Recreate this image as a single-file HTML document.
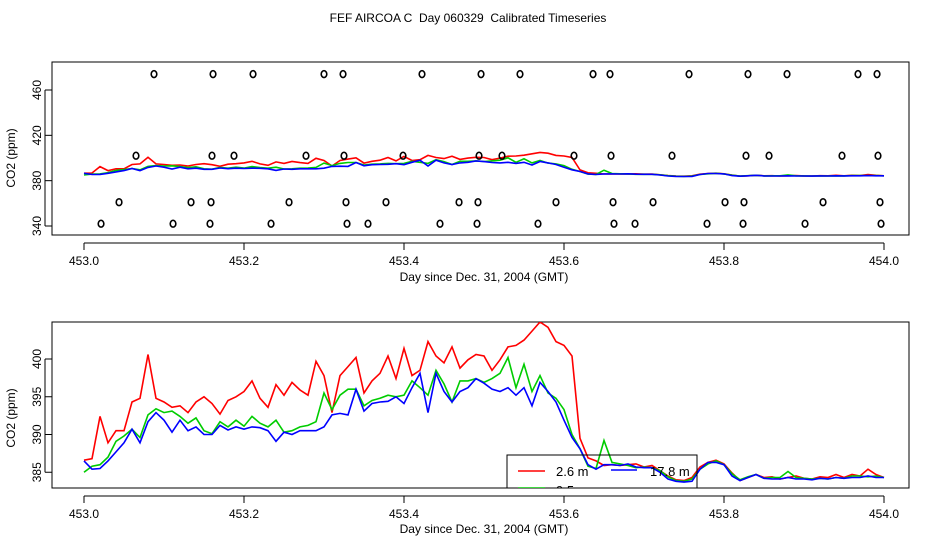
<!DOCTYPE html>
<html><head><meta charset="utf-8"><style>
body{margin:0;background:#fff}
svg{display:block;font-family:"Liberation Sans",sans-serif}
</style></head><body>
<svg id="chart" width="936" height="540" viewBox="0 0 936 540">
<defs>
<clipPath id="c1"><rect x="52" y="62" width="857" height="173"/></clipPath>
<clipPath id="c2"><rect x="52" y="322" width="857" height="166"/></clipPath>
</defs>
<rect width="936" height="540" fill="#fff"/>
<text x="468" y="22" font-size="12" text-anchor="middle" style="white-space:pre">FEF AIRCOA C  Day 060329  Calibrated Timeseries</text>
<g id="topPanel"></g>
<g id="botPanel"></g>
</svg>
<script>
const redVals=[386.6,386.8,392.4,388.9,390.5,390.5,394.3,394.8,400.6,394.8,394.3,393.6,393.8,392.9,394.3,395,394.1,392.7,394.5,395,395.7,397.1,394.8,393.6,396.6,395.2,396.9,395.9,395.2,399.7,397.8,392.9,397.8,399,400.2,395.5,397.1,398.1,400.4,397.4,401.4,397.8,398.5,402.3,400.4,399.5,401.6,398.8,399.9,400.6,400.4,398.5,399.9,401.6,401.8,402.5,403.7,404.9,404.2,402.3,401.8,400.4,389.5,386.9,386.5,385.9,386.0,385.9,386.0,386.1,385.7,385.9,385.2,384.5,384.0,383.9,384.3,385.7,386.3,386.6,386.1,384.9,383.9,384.3,384.7,384.3,384.4,384.1,384.3,384.5,384.2,384.1,384.4,384.3,384.7,384.3,384.7,384.5,385.4,384.7,384.3];
const greenVals=[385.0,385.8,386.0,387.0,389.1,389.8,390.7,389.6,392.6,393.4,392.9,393.1,392.4,391.5,392.2,390.5,390.1,391.7,391.0,391.9,391.1,392.4,391.5,391.0,391.9,390.3,390.5,391.0,391.2,391.7,395.5,393.3,395.2,396.0,396.0,393.8,394.5,394.8,395.2,395.0,395.2,397.1,396.2,395.2,398.5,396.7,394.3,397.1,397.1,397.4,396.9,397.4,398.1,400.2,396.2,399.3,395.7,397.8,395.5,394.8,393.3,390.0,388.1,385.8,385.5,389.2,386.3,386.1,385.9,385.6,385.7,385.6,385.2,384.4,383.9,383.8,384.1,385.4,386.1,386.5,386.0,384.8,384.0,384.4,384.7,384.2,384.3,384.3,385.1,384.3,384.2,384.1,384.2,384.1,384.3,384.2,384.5,384.5,384.4,384.5,384.3];
const blueVals=[386.5,385.4,385.5,386.5,387.7,388.9,390.7,388.9,391.7,392.9,391.9,390.3,391.9,390.5,391.0,390.0,390.0,391.2,390.6,391.0,390.7,391.0,390.9,390.5,389.1,390.3,390.0,390.5,390.5,390.5,391.0,392.6,392.8,392.6,396.0,393.1,394.1,394.3,394.4,395.0,394.1,396.2,398.1,392.9,398.1,395.7,394.3,395.7,396.2,397.4,396.8,396.0,395.7,396.2,395.2,396.2,393.8,396.9,395.7,394.3,391.9,389.6,388.1,386.0,385.4,386.0,386.0,385.9,386.1,385.7,385.6,385.6,385.0,384.1,383.8,383.7,383.8,385.4,386.3,386.3,386.0,384.5,383.9,384.3,384.7,384.2,384.1,384.1,384.3,384.1,384.1,384.0,384.2,384.1,384.3,384.2,384.3,384.3,384.5,384.3,384.3];
const dayStart=453.0, dayStep=0.01;
const xTicks=[453.0,453.2,453.4,453.6,453.8,454.0];
const xTickLabels=["453.0","453.2","453.4","453.6","453.8","454.0"];
const topYTicks=[340,380,420,460];
const botYTicks=[385,390,395,400];
const flagRowVals=[474,402,361,342];
const flagDays=[
[453.0875,453.1613,453.2113,453.3,453.3238,453.4225,453.4963,453.545,453.6363,453.6575,453.7563,453.83,453.8788,453.9675,453.9913],
[453.065,453.16,453.1875,453.2775,453.325,453.3988,453.4938,453.5225,453.6125,453.6588,453.735,453.8275,453.8563,453.9475,453.9925],
[453.0438,453.1338,453.1588,453.2563,453.3275,453.3775,453.4688,453.4925,453.59,453.6613,453.7113,453.8013,453.825,453.9238,453.995],
[453.0213,453.1113,453.1575,453.2338,453.3288,453.355,453.445,453.4913,453.5675,453.6625,453.6888,453.7788,453.8238,453.9013,453.9963]];

const NS="http://www.w3.org/2000/svg";
function mk(tag,attrs,parent,txt){const e=document.createElementNS(NS,tag);for(const k in attrs)e.setAttribute(k,attrs[k]);if(txt!==undefined)e.textContent=txt;parent.appendChild(e);return e;}
const xS=d=>84+(d-453.0)*800;
const yTop=v=>226-(v-340)*(136/120);
const yBot=v=>359-(v-400)*7.55;

function panel(g,box,yS,yTicks,clip,yLabelY,xLabelY,tickBaseY){
  const r=mk('rect',{x:box[0],y:box[1],width:box[2],height:box[3],fill:'none',stroke:'#000','stroke-width':1},g);
  
  
  xTicks.forEach((t,i)=>{
    const l=mk('line',{x1:xS(t),x2:xS(t),y1:tickBaseY,y2:tickBaseY+7,stroke:'#000'},g);
    
    
    const tx=mk('text',{x:xS(t),y:tickBaseY+22,'font-size':12,'text-anchor':'middle'},g,xTickLabels[i]);
    
    
  });
  mk('line',{x1:xS(xTicks[0]),x2:xS(xTicks[xTicks.length-1]),y1:tickBaseY,y2:tickBaseY,stroke:'#000'},g);
  yTicks.forEach(v=>{
    const l=mk('line',{x1:45,x2:52,y1:yS(v),y2:yS(v),stroke:'#000'},g);
    
    
    const tx=mk('text',{x:0,y:0,'font-size':12,'text-anchor':'middle',transform:`translate(41,${yS(v)}) rotate(-90)`},g,String(v));
    
    
  });
  mk('line',{x1:45,x2:45,y1:yS(yTicks[0]),y2:yS(yTicks[yTicks.length-1]),stroke:'#000'},g);
  const yl=mk('text',{x:0,y:0,'font-size':12,'text-anchor':'middle',transform:`translate(15,${yLabelY}) rotate(-90)`},g,'CO2 (ppm)');
  
  
  const xl=mk('text',{x:484,y:xLabelY,'font-size':12,'text-anchor':'middle'},g,'Day since Dec. 31, 2004 (GMT)');
  
  
  const cg=mk('g',{'clip-path':`url(#${clip})`},g);
  [[redVals,'#f00','series-2-6m'],[greenVals,'#0c0','series-9-5m'],[blueVals,'#00f','series-17-8m']].forEach(s=>{
    const pts=s[0].map((v,i)=>xS(dayStart+i*dayStep).toFixed(1)+','+yS(v).toFixed(1)).join(' ');
    const p=mk('polyline',{points:pts,fill:'none',stroke:s[1],'stroke-width':1.6},cg);
    
    
  });
  return cg;
}
const topG=document.getElementById('topPanel');
panel(topG,[52,62,857,173],yTop,topYTicks,'c1',158,281,243);
flagRowVals.forEach((v,ri)=>{
  flagDays[ri].forEach(d=>{
    const c=mk('ellipse',{cx:xS(d),cy:yTop(v),rx:2.8,ry:3.4,fill:'none',stroke:'#000','stroke-width':1.6},topG);
    
    
  });
});
const botG=document.getElementById('botPanel');
panel(botG,[52,322,857,166],yBot,botYTicks,'c2',418,533,496);
const lg=mk('g',{'clip-path':'url(#c2)'},botG);


mk('rect',{x:507,y:455,width:190,height:50,fill:'none',stroke:'#000'},lg);
const e1=mk('g',{},lg);


mk('line',{x1:518,x2:545,y1:471,y2:471,stroke:'#f00','stroke-width':1.5},e1);
mk('text',{x:556,y:476,'font-size':13},e1,'2.6 m');
const e2=mk('g',{},lg);


mk('line',{x1:611,x2:637,y1:470,y2:470,stroke:'#00f','stroke-width':1.5},e2);
mk('text',{x:650,y:476,'font-size':13},e2,'17.8 m');
const e3=mk('g',{},lg);


mk('line',{x1:518,x2:545,y1:488,y2:488,stroke:'#0c0','stroke-width':1.5},e3);
mk('text',{x:556,y:495,'font-size':13},e3,'9.5 m');
</script>
</body></html>
